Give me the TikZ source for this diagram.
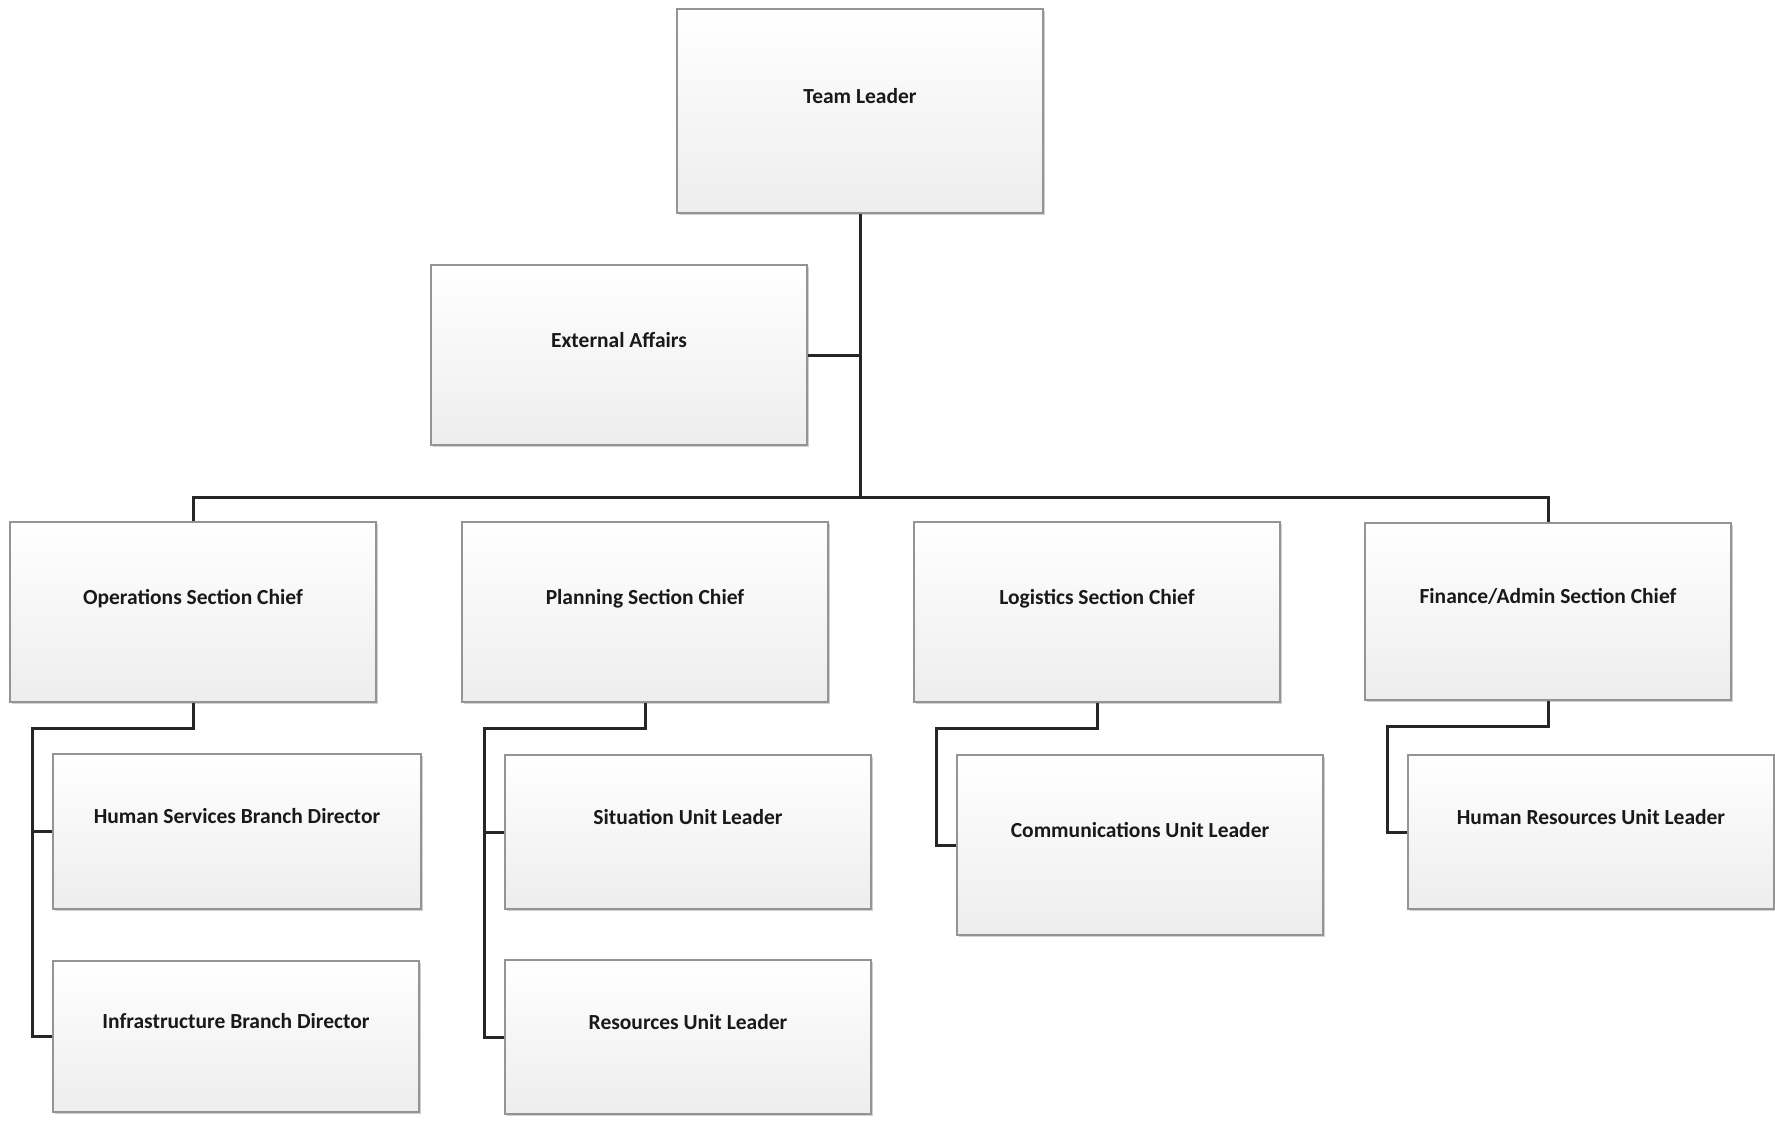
\documentclass[tikz,border=0pt]{standalone}
\usepackage{fontspec}
\setmainfont{Carlito}
\usetikzlibrary{shadows}
\begin{document}
\begin{tikzpicture}[x=1pt,y=-1pt,
  box/.style={rectangle, draw=black!42, line width=1.8pt, top color=white, bottom color=black!7,
    inner sep=0pt, font=\bfseries\fontsize{21.5}{25}\selectfont, text=black!90,
    text height=15pt, text depth=31pt, align=center,
    drop shadow={shadow xshift=2pt, shadow yshift=-2pt, opacity=0.18, fill=black}},
  wire/.style={draw=black!85, line width=3pt}]
\fill[white] (0,0) rectangle (1775,1120);
\useasboundingbox (0,0) rectangle (1775,1120);

\node[box, minimum width=366pt, minimum height=204pt] (tl) at (860,111) {Team Leader};
\node[box, minimum width=376pt, minimum height=180pt] (ext) at (619,355) {External Affairs};

\node[box, minimum width=366pt, minimum height=180pt] (ops) at (193,612) {Operations Section Chief};
\node[box, minimum width=366pt, minimum height=180pt] (plan) at (645,612) {Planning Section Chief};
\node[box, minimum width=366pt, minimum height=180pt] (log) at (1097,612) {Logistics Section Chief};
\node[box, minimum width=366pt, minimum height=177pt] (fin) at (1548,611.5) {Finance/Admin Section Chief};

\node[box, minimum width=368pt, minimum height=155pt] (hs) at (237,831.5) {Human Services Branch Director};
\node[box, minimum width=366pt, minimum height=151pt] (inf) at (236,1036.5) {Infrastructure Branch Director};
\node[box, minimum width=366pt, minimum height=154pt] (sit) at (688,832) {Situation Unit Leader};
\node[box, minimum width=366pt, minimum height=154pt] (res) at (688,1037) {Resources Unit Leader};
\node[box, minimum width=366pt, minimum height=180pt] (comm) at (1140,845) {Communications Unit Leader};
\node[box, minimum width=366pt, minimum height=154pt] (hr) at (1591,832) {Human Resources Unit Leader};

\coordinate (bus) at (860,497);
\coordinate (opsL) at (32,728);
\coordinate (plL) at (484,728);
\coordinate (lgL) at (936,728);
\coordinate (fnL) at (1387,726);

\draw[wire] (tl.south) -- (bus);
\draw[wire] (ext.east) -- (ext.east -| tl.south);
\draw[wire] (ops.north) |- (bus) -| (fin.north);

\draw[wire] (ops.south) |- (opsL) |- (inf.west);
\draw[wire] (hs.west) -- (hs.west -| opsL);
\draw[wire] (plan.south) |- (plL) |- (res.west);
\draw[wire] (sit.west) -- (sit.west -| plL);
\draw[wire] (log.south) |- (lgL) |- (comm.west);
\draw[wire] (fin.south) |- (fnL) |- (hr.west);
\end{tikzpicture}
\end{document}
